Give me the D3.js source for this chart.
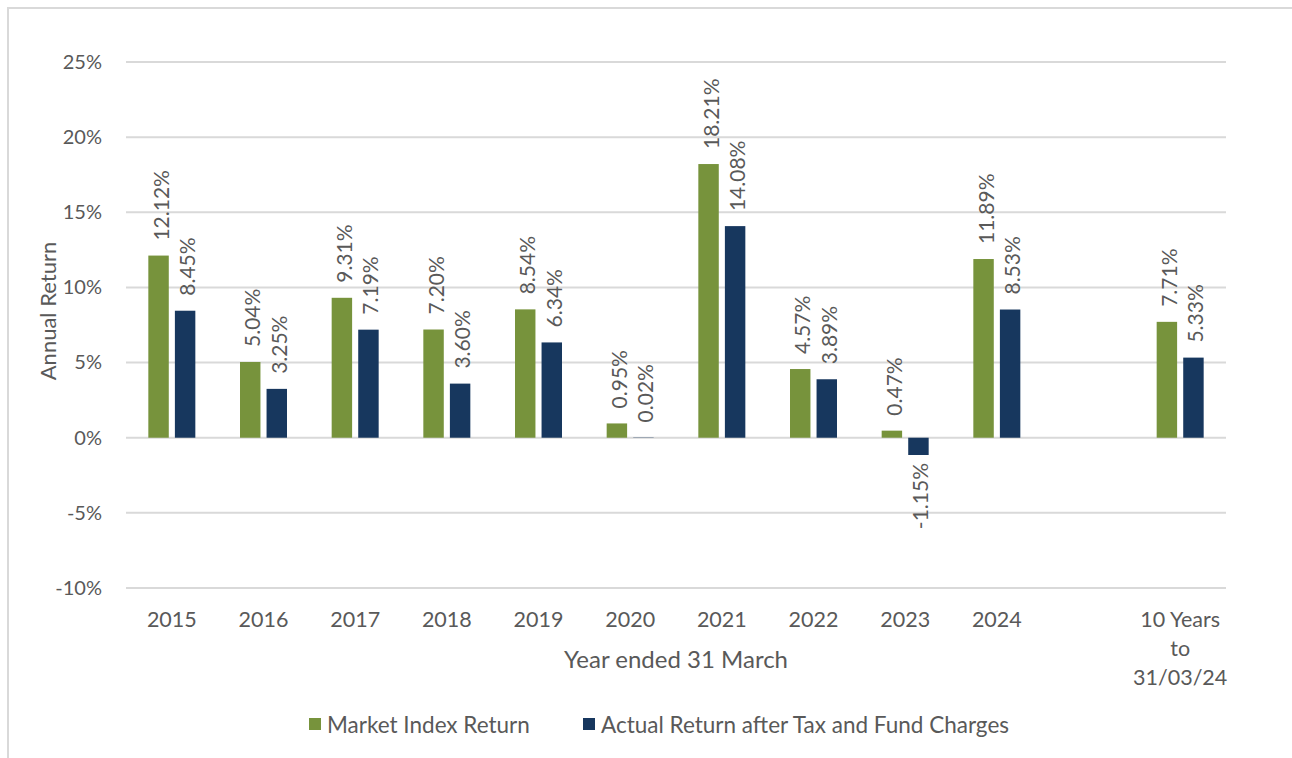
<!DOCTYPE html>
<html>
<head>
<meta charset="utf-8">
<script src="https://cdn.jsdelivr.net/npm/d3@7"></script>
<style>
  body { margin: 0; background: #fff; }
  svg text { font-family: Lato, "Open Sans", sans-serif; fill: #595959; }
</style>
</head>
<body>
<div id="chart"></div>
<script>
const categories = ["2015", "2016", "2017", "2018", "2019", "2020", "2021", "2022", "2023", "2024", "", "10 Years\nto\n31/03/24"];
const seriesNames = ["Market Index Return", "Actual Return after Tax and Fund Charges"];
const marketReturn = [12.12, 5.04, 9.31, 7.20, 8.54, 0.95, 18.21, 4.57, 0.47, 11.89, null, 7.71];
const actualReturn = [8.45, 3.25, 7.19, 3.60, 6.34, 0.02, 14.08, 3.89, -1.15, 8.53, null, 5.33];
const yTicks = [-10, -5, 0, 5, 10, 15, 20, 25];
const colors = ["#77933C", "#17375E"];

const width = 1292, height = 758;
const svg = d3.select("#chart").append("svg")
    .attr("width", width)
    .attr("height", height);

// chart frame (runs off the right and bottom edge)
svg.append("rect")
    .attr("x", 8).attr("y", 8)
    .attr("width", 1300).attr("height", 800)
    .attr("fill", "none")
    .attr("stroke", "#d9d9d9")
    .attr("stroke-width", 2);

const x0 = d3.scaleBand().domain(categories).range([126, 1226]).padding(0);
const bw = x0.bandwidth();
const x1 = d3.scaleBand().domain(seriesNames)
    .range([bw / 2 - 23.5, bw / 2 + 23.5])
    .paddingInner(0.23);
const y = d3.scaleLinear().domain([-10, 25]).range([588, 62]);

// gridlines
svg.append("g").selectAll("line")
    .data(yTicks)
    .enter().append("line")
    .attr("x1", 126).attr("x2", 1226)
    .attr("y1", d => y(d)).attr("y2", d => y(d))
    .attr("stroke", "#d9d9d9")
    .attr("stroke-width", 2);

// y axis labels
const yAxis = svg.append("g")
    .attr("transform", "translate(126,0)")
    .call(d3.axisLeft(y).tickValues(yTicks).tickSize(0).tickPadding(24).tickFormat(d => d + "%"));
yAxis.select(".domain").remove();
yAxis.selectAll("text")
    .style("font-size", "20px")
    .attr("fill", "#595959");

// x axis labels
const xAxis = svg.append("g")
    .attr("transform", "translate(0,588)")
    .call(d3.axisBottom(x0).tickSize(0).tickFormat(""));
xAxis.select(".domain").remove();
xAxis.selectAll(".tick").each(function(d) {
  const lines = d.split("\n");
  const t = d3.select(this).append("text")
      .attr("text-anchor", "middle")
      .style("font-size", "21.5px")
      .attr("fill", "#595959");
  lines.forEach((ln, i) => {
    t.append("tspan").attr("x", 0).attr("y", 39 + i * 29).text(ln);
  });
});

const rows = categories.map((c, i) => ({
  cat: c,
  vals: [marketReturn[i], actualReturn[i]]
}));

const groups = svg.append("g").selectAll("g")
    .data(rows)
    .enter().append("g")
    .attr("transform", d => `translate(${x0(d.cat)},0)`);

const bars = groups.selectAll("g")
    .data(d => d.vals.map((v, j) => ({ name: seriesNames[j], v: v, j: j })).filter(e => e.v !== null))
    .enter().append("g");

bars.append("rect")
    .attr("x", d => x1(d.name))
    .attr("width", x1.bandwidth())
    .attr("y", d => y(Math.max(0, d.v)))
    .attr("height", d => Math.abs(y(d.v) - y(0)))
    .attr("fill", d => colors[d.j]);

bars.append("text")
    .attr("transform", d => {
      const cx = x1(d.name) + x1.bandwidth() / 2 + 1.5;
      const cy = d.v >= 0 ? y(d.v) - 15 : y(d.v) + 8;
      return `translate(${cx},${cy}) rotate(-90)`;
    })
    .attr("text-anchor", d => d.v >= 0 ? "start" : "end")
    .attr("dominant-baseline", "central")
    .style("font-size", "21px")
    .attr("fill", "#404040")
    .text(d => d.v.toFixed(2) + "%");

// axis titles
svg.append("text")
    .attr("transform", "translate(47,311) rotate(-90)")
    .attr("text-anchor", "middle")
    .attr("dominant-baseline", "central")
    .style("font-size", "22px")
    .text("Annual Return");

svg.append("text")
    .attr("x", 676).attr("y", 668)
    .attr("text-anchor", "middle")
    .style("font-size", "24px")
    .text("Year ended 31 March");

// legend
const legendX = [309, 583];
const legend = svg.append("g").selectAll("g")
    .data(seriesNames)
    .enter().append("g")
    .attr("transform", (d, i) => `translate(${legendX[i]},718)`);
legend.append("rect")
    .attr("width", 12).attr("height", 12)
    .attr("fill", (d, i) => colors[i]);
legend.append("text")
    .attr("x", 18).attr("y", 6)
    .attr("dominant-baseline", "central")
    .style("font-size", "22.5px")
    .text(d => d);
</script>
</body>
</html>
